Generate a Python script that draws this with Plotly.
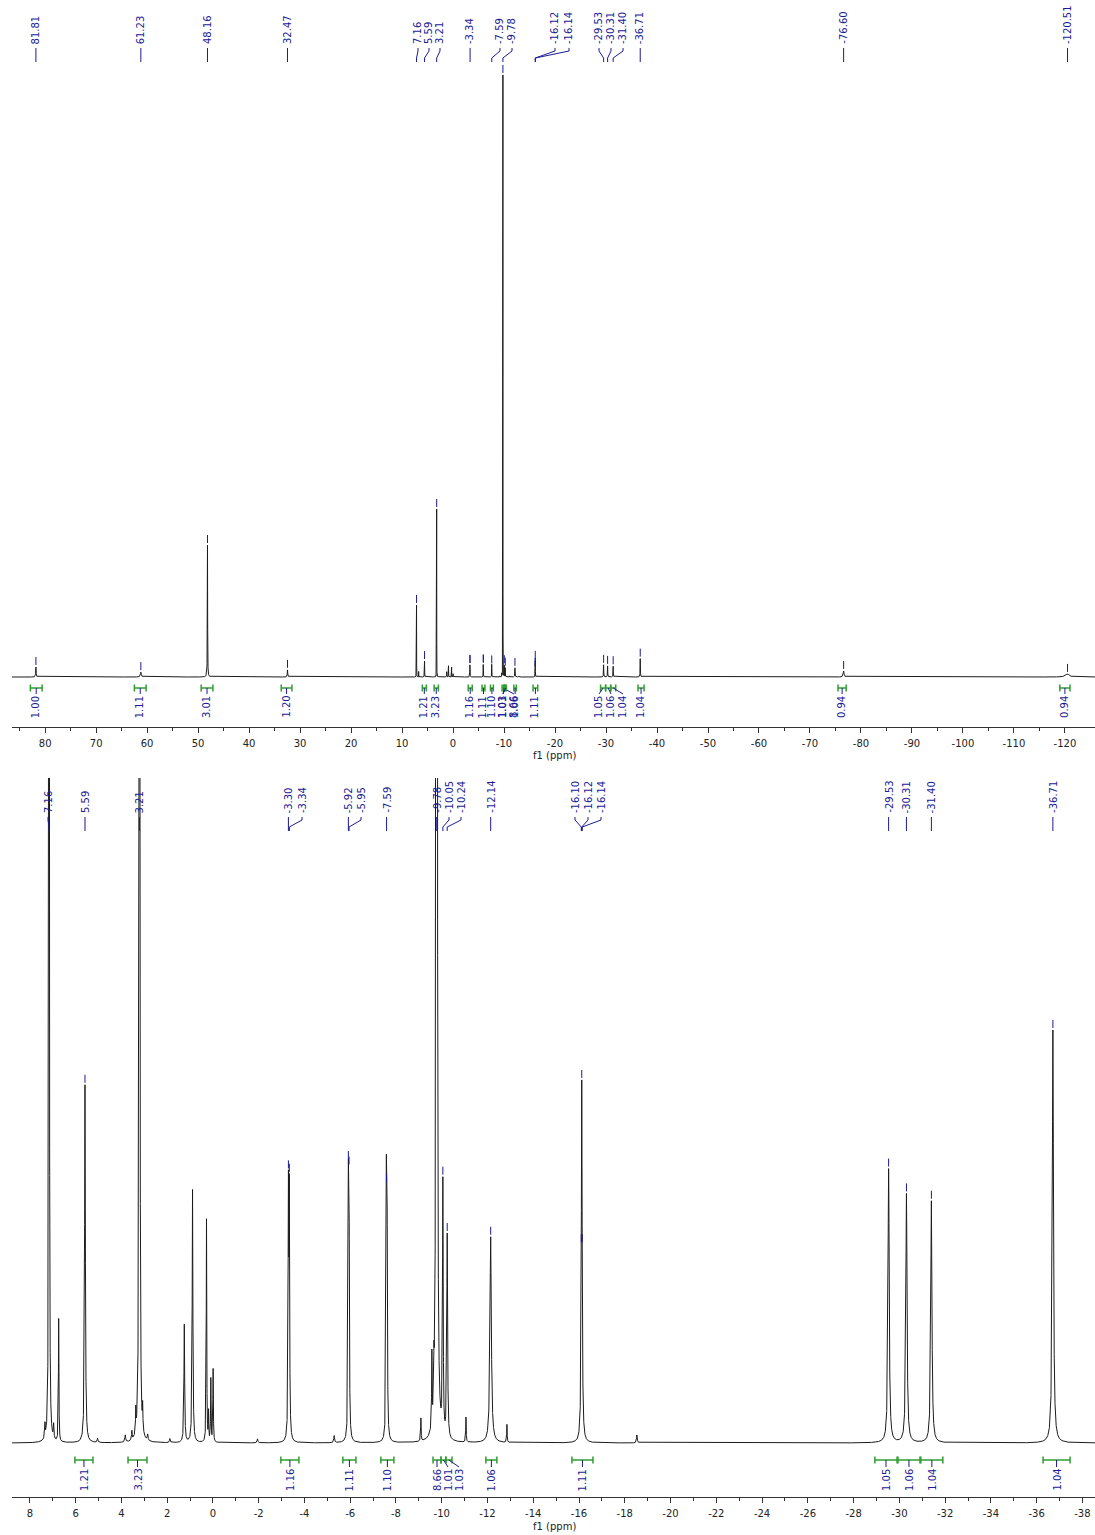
import numpy as np
import plotly.graph_objects as go

# ------------------------------------------------------------------ DATA
# resonances (ppm, intensity in arbitrary units, half-width in ppm)
peak_ppm = [81.81, 61.23, 48.16, 32.47, 7.34, 7.16, 6.96, 6.74, 5.59, 5.04, 3.83, 3.54, 3.37,
            3.21, 3.07, 2.85, 1.88, 1.25, 0.89, 0.28, 0.19, 0.09, -0.01, -1.95, -3.30, -3.34,
            -5.30, -5.92, -5.95, -7.58, -7.61, -9.09, -9.57, -9.66, -9.78, -10.05, -10.24,
            -11.06, -12.14, -12.85, -16.12, -18.53, -29.53, -30.31, -31.40, -36.71, -76.60,
            -120.51]
peak_height = [225, 110, 2970, 160, 14, 1620, 14, 123, 358, 4, 7, 9, 23,
               3780, 23, 6, 4, 118, 253, 223, 29, 63, 73, 4, 240, 236,
               7, 232, 225, 236, 228, 23, 73, 40, 13545, 252, 204,
               25, 206, 18, 363, 8, 274, 249, 242, 413, 135,
               70]
peak_halfwidth = [0.05, 0.1, 0.03, 0.05, 0.015, 0.012, 0.015, 0.012, 0.02, 0.02, 0.02, 0.015, 0.012,
                  0.01, 0.012, 0.02, 0.02, 0.018, 0.018, 0.012, 0.012, 0.012, 0.012, 0.02, 0.016, 0.016,
                  0.02, 0.016, 0.016, 0.016, 0.016, 0.012, 0.012, 0.012, 0.008, 0.016, 0.02,
                  0.012, 0.035, 0.012, 0.022, 0.02, 0.03, 0.03, 0.03, 0.03, 0.1,
                  0.4]

# picked peaks (labels)
picked_ppm = [81.81, 61.23, 48.16, 32.47, 7.16, 5.59, 3.21, -3.30, -3.34, -5.92, -5.95, -7.59,
              -9.78, -10.05, -10.24, -12.14, -16.10, -16.12, -16.14, -29.53, -30.31, -31.40,
              -36.71, -76.60, -120.51]
top_labels = [81.81, 61.23, 48.16, 32.47, 7.16, 5.59, 3.21, -3.34, -7.59, -9.78, -16.12, -16.14,
              -29.53, -30.31, -31.40, -36.71, -76.60, -120.51]
bottom_labels = [7.16, 5.59, 3.21, -3.30, -3.34, -5.92, -5.95, -7.59, -9.78, -10.05, -10.24,
                 -12.14, -16.10, -16.12, -16.14, -29.53, -30.31, -31.40, -36.71]

# integrals
integral_from = [82.9, 62.5, 49.4, 33.7, 6.03, 3.71, -2.97, -5.68, -7.34, -9.62, -9.97, -10.18,
                 -11.93, -15.69, -28.93, -29.94, -30.94, -36.28, -75.5, -119.0]
integral_to = [80.6, 60.2, 47.1, 31.6, 5.24, 2.88, -3.76, -6.25, -7.91, -9.97, -10.18, -10.45,
               -12.41, -16.61, -29.90, -30.90, -31.90, -37.46, -77.1, -121.0]
integral_value = [1.00, 1.11, 3.01, 1.20, 1.21, 3.23, 1.16, 1.11, 1.10, 8.66, 1.01, 1.03,
                  1.06, 1.11, 1.05, 1.06, 1.04, 1.04, 0.94, 0.94]

top_tick_vals = [80, 70, 60, 50, 40, 30, 20, 10, 0, -10, -20, -30, -40, -50, -60, -70, -80,
                 -90, -100, -110, -120]
top_tick_text = ["80", "70", "60", "50", "40", "30", "20", "10", "0", "-10", "-20", "-30", "-40",
                 "-50", "-60", "-70", "-80", "-90", "-100", "-110", "-120"]
bottom_tick_vals = [8, 6, 4, 2, 0, -2, -4, -6, -8, -10, -12, -14, -16, -18, -20, -22, -24, -26,
                    -28, -30, -32, -34, -36, -38]
bottom_tick_text = ["8", "6", "4", "2", "0", "-2", "-4", "-6", "-8", "-10", "-12", "-14", "-16",
                    "-18", "-20", "-22", "-24", "-26", "-28", "-30", "-32", "-34", "-36", "-38"]
axis_title = "f1 (ppm)"

# ------------------------------------------------------------------ LAYOUT / STYLE
W, H = 1095, 1535
X0 = 12
BLUE = "#1a1a96"
GREEN = "#2f9e2f"
FONT = "DejaVu Sans"

TOP = dict(xa="x", ya="y", y_top=60, y_bot=727, base=677, upp=22.5, xr=(86.5, -125.9),
           text_bottom=46, lead=(48, 51, 58, 62), br_y=688, il_top=694, title_y=755,
           ticks=(top_tick_vals, top_tick_text), minor=5,
           labels=top_labels,
           label_px=[None, None, None, None, 418, 429, 440, None, 500, 512, 555, 569, 599, 611,
                     623, None, None, None],
           int_px=[None, None, None, None, None, None, None, None, None, 514, 503, 503, None,
                   None, 599, 611, 623, None, None, None])
BOT = dict(xa="x2", ya="y2", y_top=778, y_bot=1497, base=1443, upp=1.0, xr=(8.78, -38.55),
           text_bottom=815, lead=(817, 820, 827, 831), br_y=1460, il_top=1467, title_y=1526,
           ticks=(bottom_tick_vals, bottom_tick_text), minor=1,
           labels=bottom_labels,
           label_px=[48, None, None, None, 302, None, 361, None, None, 449, 461, None, 575, 588,
                     601, None, None, None, None],
           int_px=[None] * 10 + [448, 459] + [None] * 8)


def spectrum(x):
    x = np.asarray(x, dtype=float)
    y = np.zeros_like(x)
    for p, h, g in zip(peak_ppm, peak_height, peak_halfwidth):
        y += h * g * g / (g * g + (x - p) ** 2)
    return y


def ppm_of_px(panel, px):
    a, b = panel["xr"]
    return a - (px - X0) / (W - X0) * (a - b)


def yp(py):
    return 1 - py / H


fig = go.Figure()
shapes = []
annotations = []

for panel in (TOP, BOT):
    a, b = panel["xr"]
    step = 0.01 if panel is TOP else 0.0015
    grid = np.arange(b - 0.1, a + 0.1, step)
    centers = [p for p in peak_ppm if b - 1 < p < a + 1]
    grid = np.union1d(grid, np.array(centers))
    sy = spectrum(grid)
    fig.add_trace(go.Scatter(x=grid, y=sy, mode="lines", xaxis=panel["xa"], yaxis=panel["ya"],
                             line=dict(color="#1c1c1c", width=1), hoverinfo="skip",
                             showlegend=False))

    # peak-pick markers
    mx, my = [], []
    for p in picked_ppm:
        if b < p < a:
            v = float(spectrum([p])[0])
            mx += [p, p, None]
            my += [v + 2 * panel["upp"], v + 10 * panel["upp"], None]
    fig.add_trace(go.Scatter(x=mx, y=my, mode="lines", xaxis=panel["xa"], yaxis=panel["ya"],
                             line=dict(color=BLUE, width=1), hoverinfo="skip", showlegend=False))

    # peak labels + leaders
    l0, l1, l2, l3 = panel["lead"]
    for val, lpx in zip(panel["labels"], panel["label_px"]):
        lx = val if lpx is None else ppm_of_px(panel, lpx)
        annotations.append(dict(x=lx, y=yp(panel["text_bottom"]), xref=panel["xa"], yref="paper",
                                text=f"{val:.2f}", textangle=-90, showarrow=False,
                                xanchor="center", yanchor="bottom",
                                font=dict(family=FONT, size=10, color=BLUE)))
        pts = [(lx, l0), (lx, l1), (val, l2), (val, l3)]
        for (xa_, ya_), (xb_, yb_) in zip(pts[:-1], pts[1:]):
            shapes.append(dict(type="line", xref=panel["xa"], yref="paper", x0=xa_, x1=xb_,
                               y0=yp(ya_), y1=yp(yb_), line=dict(color=BLUE, width=1)))

    # integrals
    by = panel["br_y"]
    for f, t, v, ipx in zip(integral_from, integral_to, integral_value, panel["int_px"]):
        if not (b < f < a and b < t < a):
            continue
        cx = (f + t) / 2
        lx = cx if ipx is None else ppm_of_px(panel, ipx)
        shapes.append(dict(type="line", xref=panel["xa"], yref="paper", x0=f, x1=t,
                           y0=yp(by), y1=yp(by), line=dict(color=GREEN, width=1.5)))
        for e in (f, t):
            shapes.append(dict(type="line", xref=panel["xa"], yref="paper", x0=e, x1=e,
                               y0=yp(by - 3.5), y1=yp(by + 3.5), line=dict(color=GREEN, width=1.5)))
        shapes.append(dict(type="line", xref=panel["xa"], yref="paper", x0=cx, x1=lx,
                           y0=yp(by), y1=yp(panel["il_top"]), line=dict(color=BLUE, width=1)))
        annotations.append(dict(x=lx, y=yp(panel["il_top"]), xref=panel["xa"], yref="paper",
                                text=f"{v:.2f}", textangle=-90, showarrow=False,
                                xanchor="center", yanchor="top",
                                font=dict(family=FONT, size=10, color=BLUE)))

    annotations.append(dict(x=(X0 + W) / 2 / W + 0.001, y=yp(panel["title_y"]), xref="paper",
                            yref="paper", text=axis_title, showarrow=False, xanchor="center",
                            yanchor="middle", font=dict(family=FONT, size=10, color="#222")))

xdom = [X0 / W, 1]


def xaxis_cfg(panel):
    tv, tt = panel["ticks"]
    a, b = panel["xr"]
    m = panel["minor"]
    minor_vals = [v + m for v in tv if b < v + m < a]
    return dict(domain=xdom, range=[a, b], anchor=panel["ya"], showline=True,
                linecolor="#333", linewidth=1, ticks="outside", ticklen=5, tickcolor="#333",
                tickvals=tv, ticktext=tt, showgrid=False, zeroline=False,
                tickfont=dict(family=FONT, size=10, color="#222"), ticklabelstandoff=2,
                minor=dict(tickvals=minor_vals, ticks="outside", ticklen=3, tickcolor="#333",
                           showgrid=False))


def yaxis_cfg(panel):
    return dict(domain=[yp(panel["y_bot"]), yp(panel["y_top"])],
                range=[-(panel["y_bot"] - panel["base"]) * panel["upp"],
                       (panel["base"] - panel["y_top"]) * panel["upp"]],
                visible=False, anchor=panel["xa"])


fig.update_layout(
    width=W, height=H, margin=dict(l=0, r=0, t=0, b=0),
    paper_bgcolor="white", plot_bgcolor="rgba(0,0,0,0)",
    xaxis=xaxis_cfg(TOP), yaxis=yaxis_cfg(TOP),
    xaxis2=xaxis_cfg(BOT), yaxis2=yaxis_cfg(BOT),
    shapes=shapes, annotations=annotations, showlegend=False,
)

fig.write_html("out.html", config={"displayModeBar": False},
               post_script="document.body.style.margin='0px';document.body.style.overflow='hidden';")
